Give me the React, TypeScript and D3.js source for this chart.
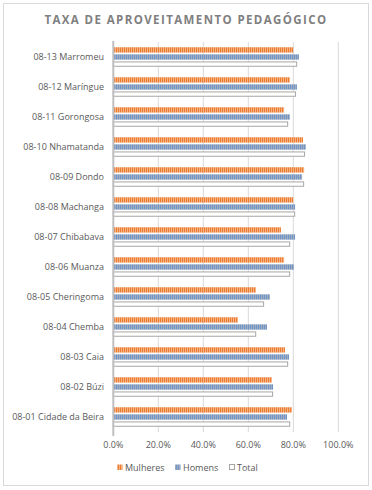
import React from "react";
import * as d3 from "d3";

const categories = [
  "08-13 Marromeu",
  "08-12 Maríngue",
  "08-11 Gorongosa",
  "08-10 Nhamatanda",
  "08-09 Dondo",
  "08-08 Machanga",
  "08-07 Chibabava",
  "08-06 Muanza",
  "08-05 Cheringoma",
  "08-04 Chemba",
  "08-03 Caia",
  "08-02 Búzi",
  "08-01 Cidade da Beira",
];
const mulheres = [0.8, 0.785, 0.759, 0.843, 0.848, 0.8, 0.745, 0.759, 0.634, 0.554, 0.763, 0.705, 0.794];
const homens = [0.825, 0.816, 0.785, 0.856, 0.839, 0.808, 0.808, 0.803, 0.696, 0.683, 0.781, 0.71, 0.772];
const total = [0.815, 0.81, 0.775, 0.85, 0.846, 0.806, 0.784, 0.784, 0.668, 0.633, 0.775, 0.708, 0.784];
const seriesNames = ["Mulheres", "Homens", "Total"];
const tickValues = [0, 0.2, 0.4, 0.6, 0.8, 1.0];
const title = "TAXA DE APROVEITAMENTO PEDAGÓGICO";

const FONT = "'Open Sans', 'Liberation Sans', sans-serif";

export default function App() {
  const W = 372;
  const H = 490;
  const x = d3.scaleLinear().domain([0, 1]).range([113.3, 338.3]);
  const y = d3
    .scaleBand<string>()
    .domain(categories)
    .range([42, 432])
    .paddingInner(0.35)
    .paddingOuter(0.175);
  const sub = d3
    .scaleBand<string>()
    .domain(seriesNames)
    .range([0, y.bandwidth()])
    .paddingInner(0.25);
  const values = [mulheres, homens, total];
  const fills = ["url(#patM)", "url(#patH)", "#ffffff"];
  const fmt = d3.format(".1%");

  const legendItems = [
    { name: "Mulheres", sx: 117, tx: 125, fill: "url(#patM)", stroke: "none" },
    { name: "Homens", sx: 175, tx: 183, fill: "url(#patH)", stroke: "none" },
    { name: "Total", sx: 229, tx: 237, fill: "#ffffff", stroke: "#a6a6a6" },
  ];

  return (
    <svg
      width={W}
      height={H}
      style={{ position: "absolute", left: 0, top: 0, background: "#fff" }}
      fontFamily={FONT}
    >
      <defs>
        <pattern id="patM" width="2" height="4" patternUnits="userSpaceOnUse">
          <rect width="2" height="4" fill="#ED7D31" />
          <rect x="1" width="1" height="4" fill="#F4B183" />
        </pattern>
        <pattern id="patH" width="2" height="4" patternUnits="userSpaceOnUse">
          <rect width="2" height="4" fill="#6F95C9" />
          <rect x="1" width="1" height="4" fill="#A2AEC0" />
        </pattern>
      </defs>
      <rect x={3.5} y={3.5} width={365} height={482} fill="#fff" stroke="#d9d9d9" />
      <text
        x={186}
        y={24}
        textAnchor="middle"
        fontSize={11.5}
        fontWeight="bold"
        fill="#7f7f7f"
        letterSpacing={1.4}
      >
        {title}
      </text>
      {tickValues.slice(1).map((t) => (
        <line key={t} x1={x(t)} x2={x(t)} y1={42} y2={432} stroke="#d9d9d9" strokeWidth={1} />
      ))}
      {categories.map((c, i) => (
        <g key={c}>
          {values.map((vals, s) => {
            const yy = (y(c) as number) + (sub(seriesNames[s]) as number);
            const bw = sub.bandwidth();
            if (s === 2) {
              return (
                <rect
                  key={s}
                  x={x(0)}
                  y={yy + 0.5}
                  width={x(vals[i]) - x(0)}
                  height={bw - 1}
                  fill="#fff"
                  stroke="#a6a6a6"
                  strokeWidth={1}
                />
              );
            }
            return (
              <rect key={s} x={x(0)} y={yy} width={x(vals[i]) - x(0)} height={bw} fill={fills[s]} />
            );
          })}
          <text
            x={104}
            y={(y(c) as number) + y.bandwidth() / 2}
            dy="0.35em"
            textAnchor="end"
            fontSize={9}
            fill="#595959"
          >
            {c}
          </text>
        </g>
      ))}
      <line x1={x(0)} x2={x(0)} y1={41} y2={436} stroke="#bfbfbf" strokeWidth={2} />
      {tickValues.map((t) => (
        <text key={t} x={x(t)} y={445} dy="0.35em" textAnchor="middle" fontSize={9} fill="#595959">
          {fmt(t)}
        </text>
      ))}
      {legendItems.map((l) => (
        <g key={l.name}>
          <rect
            x={l.sx + (l.stroke === "none" ? 0 : 0.5)}
            y={464.5}
            width={l.stroke === "none" ? 5.5 : 5}
            height={l.stroke === "none" ? 5.5 : 5}
            fill={l.fill}
            stroke={l.stroke}
          />
          <text x={l.tx} y={467.5} dy="0.35em" fontSize={9} fill="#595959">
            {l.name}
          </text>
        </g>
      ))}
    </svg>
  );
}
